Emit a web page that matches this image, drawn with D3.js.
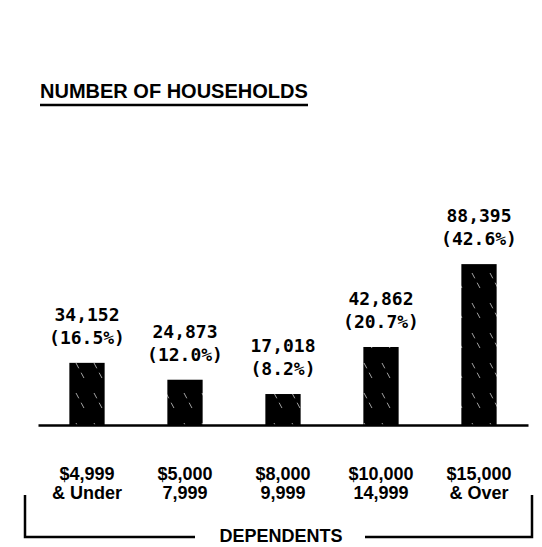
<!DOCTYPE html>
<html>
<head>
<meta charset="utf-8">
<script src="https://cdn.jsdelivr.net/npm/d3@7"></script>
<style>
  body { margin: 0; background: #fff; }
  .title { font-family: "Liberation Sans", Arial, sans-serif; font-weight: bold; font-size: 20px; }
  .val { font-family: "DejaVu Sans Mono", monospace; font-weight: bold; font-size: 18px; }
  .cat { font-family: "Liberation Sans", Arial, sans-serif; font-weight: bold; font-size: 18px; }
</style>
</head>
<body>
<svg id="chart"></svg>
<script>
// income brackets (two text lines each)
const catTop = ["$4,999", "$5,000", "$8,000", "$10,000", "$15,000"];
const catBottom = ["& Under", "7,999", "9,999", "14,999", "& Over"];
const households = [34152, 24873, 17018, 42862, 88395];
const percents = ["16.5%", "12.0%", "8.2%", "20.7%", "42.6%"];

const W = 542, H = 547;
const baseY = 425;

const svg = d3.select("#chart").attr("width", W).attr("height", H);

// sparse white streaks on the black bars
const defs = svg.append("defs");
const pat = defs.append("pattern")
    .attr("id", "hatch")
    .attr("patternUnits", "userSpaceOnUse")
    .attr("width", 18).attr("height", 30);
pat.append("rect").attr("width", 18).attr("height", 30).attr("fill", "#000");
pat.append("line")
    .attr("x1", 4).attr("y1", 3).attr("x2", 13).attr("y2", 20)
    .attr("stroke", "#fff").attr("stroke-width", 0.8).attr("stroke-opacity", 0.8)
    .attr("stroke-dasharray", "6,5");

const x = d3.scaleBand()
    .domain(d3.range(households.length))
    .range([38, 528])
    .paddingInner(0.64)
    .paddingOuter(0.32);

const y = d3.scaleLinear()
    .domain([0, 100000])
    .range([baseY, baseY - 182]);

// title
svg.append("text")
    .attr("class", "title")
    .attr("x", 40).attr("y", 98)
    .text("NUMBER OF HOUSEHOLDS");
svg.append("line")
    .attr("x1", 40).attr("x2", 308)
    .attr("y1", 105).attr("y2", 105)
    .attr("stroke", "#000").attr("stroke-width", 2.5);

// bars
svg.selectAll("rect.bar")
    .data(households)
    .join("rect")
    .attr("class", "bar")
    .attr("x", (d, i) => x(i))
    .attr("y", d => y(d))
    .attr("width", x.bandwidth())
    .attr("height", d => baseY - y(d))
    .attr("fill", "url(#hatch)");

// value labels
const lab = svg.selectAll("g.lab")
    .data(households)
    .join("g")
    .attr("class", "lab")
    .attr("transform", (d, i) => `translate(${x(i) + x.bandwidth() / 2},${y(d)})`);
lab.append("text")
    .attr("class", "val")
    .attr("text-anchor", "middle")
    .attr("y", -42)
    .text(d => d3.format(",")(d));
lab.append("text")
    .attr("class", "val")
    .attr("text-anchor", "middle")
    .attr("y", -19)
    .text((d, i) => `(${percents[i]})`);

// baseline axis with two-line category labels
const xAxis = d3.axisBottom(x).tickSize(0).tickSizeOuter(0).tickFormat(() => "");
const axG = svg.append("g")
    .attr("transform", `translate(0,${baseY})`)
    .call(xAxis);
axG.select(".domain").attr("stroke", "#000").attr("stroke-width", 2.5);
axG.selectAll(".tick").each(function(d) {
    const t = d3.select(this);
    t.append("text").attr("class", "cat").attr("fill", "#000")
        .attr("text-anchor", "middle").attr("y", 55).text(catTop[d]);
    t.append("text").attr("class", "cat").attr("fill", "#000")
        .attr("text-anchor", "middle").attr("y", 74).text(catBottom[d]);
});

// DEPENDENTS bracket
const bY = 537, bL = 25, bR = 532;
svg.append("text")
    .attr("class", "cat")
    .attr("x", 281).attr("y", 542)
    .attr("text-anchor", "middle")
    .attr("font-size", 19)
    .text("DEPENDENTS");
svg.append("path")
    .attr("d", `M${bL},495 V${bY} H195 M365,${bY} H${bR} V495`)
    .attr("fill", "none")
    .attr("stroke", "#000")
    .attr("stroke-width", 2.5);
</script>
</body>
</html>
